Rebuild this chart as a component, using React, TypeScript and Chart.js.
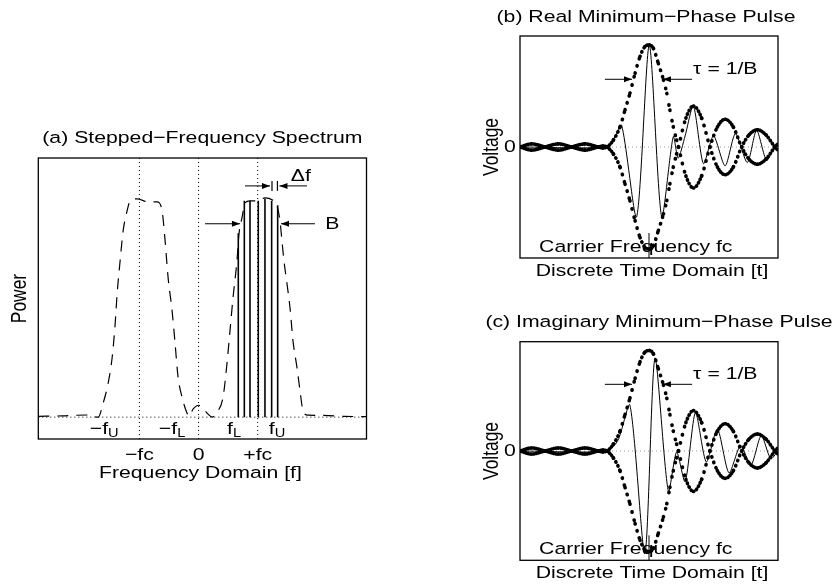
import React, { useEffect, useRef } from "react";
import { Chart, registerables } from "chart.js";
Chart.register(...registerables);

const W = 834;
const H = 587;
const FONT = '"Liberation Sans", Arial, Helvetica, sans-serif';
const SX = 1.22; // horizontal stretch of the lettering in the reference
const FS = 17.4;

// ---------- Panel (a): stepped-frequency spectrum (x in units of fc) ----------
const specFreq = [-2.71, -2.3, -1.9, -1.698, -1.613, -1.529, -1.461, -1.41, -1.377, -1.326, -1.275, -1.208, -1.157, -1.039, -0.853, -0.701, -0.617, -0.566, -0.515, -0.448, -0.397, -0.346, -0.279, -0.194, -0.161, -0.093, 0, 0.076, 0.16, 0.228, 0.313, 0.414, 0.481, 0.532, 0.583, 0.65, 0.684, 0.735, 0.785, 0.87, 1.005, 1.123, 1.242, 1.326, 1.377, 1.41, 1.444, 1.495, 1.546, 1.596, 1.664, 1.715, 1.765, 1.85, 2.1, 2.45, 2.84];
const specPower = [0.004, 0.006, 0.01, 0, 0.065, 0.157, 0.276, 0.433, 0.571, 0.724, 0.862, 0.954, 1.0, 1.009, 0.995, 0.995, 0.954, 0.816, 0.645, 0.493, 0.341, 0.184, 0.092, 0.018, 0.005, 0.037, 0.055, 0.041, 0.014, 0, 0.023, 0.092, 0.249, 0.401, 0.553, 0.724, 0.848, 0.922, 0.991, 1.0, 1.0, 1.014, 1.005, 0.977, 0.908, 0.816, 0.724, 0.618, 0.507, 0.355, 0.23, 0.124, 0.032, 0.009, 0.008, 0.004, 0.002];
const stepFreq = [0.672, 0.774, 0.87, 1.01, 1.123, 1.236, 1.338];
const stepPower = [0.85, 1.0, 1.0, 1.0, 1.01, 1.0, 0.98];
const aTickVals = [-1, 0, 1];
const aTickLabels = ["\u2212fc", "0", "+fc"];
const aBandVals = [-1.596, -0.448, 0.6, 1.326];
const aBandMain = ["\u2212f", "\u2212f", "f", "f"];
const aBandSub = ["U", "L", "L", "U"];
const aBaseline = 0;

// ---------- Panels (b) and (c): minimum-phase pulse (t normalised 0..1) ----------
const envTime = [0, 0.045, 0.097, 0.149, 0.2, 0.252, 0.303, 0.322, 0.337, 0.362, 0.388, 0.407, 0.426, 0.446, 0.465, 0.484, 0.501, 0.517, 0.536, 0.556, 0.569, 0.581, 0.594, 0.607, 0.614, 0.643, 0.672, 0.704, 0.736, 0.765, 0.795, 0.827, 0.859, 0.888, 0.92, 0.953, 0.988, 1.0];
const envVal = [0, 0.028, 0, -0.028, 0, 0.028, 0, -0.008, 0, 0.063, 0.183, 0.333, 0.483, 0.664, 0.814, 0.904, 0.919, 0.889, 0.754, 0.604, 0.483, 0.333, 0.183, 0.063, 0, -0.26, -0.37, -0.26, 0, 0.18, 0.25, 0.18, 0, -0.11, -0.155, -0.11, 0, 0.03];
const reTime = [0, 0.337, 0.365, 0.394, 0.452, 0.501, 0.549, 0.594, 0.613, 0.64, 0.672, 0.711, 0.75, 0.795, 0.835, 0.881, 0.917, 0.956, 0.99, 1.0];
const reVal = [0, 0, 0.08, 0.195, -0.628, 0.919, -0.628, 0.093, -0.1, 0.1, 0.37, -0.15, 0.1, -0.17, 0.12, -0.14, 0.15, -0.12, 0.02, 0];
const imTime = [0, 0.337, 0.38, 0.426, 0.484, 0.523, 0.575, 0.607, 0.64, 0.68, 0.722, 0.765, 0.81, 0.855, 0.895, 0.935, 0.972, 1.0];
const imVal = [0, 0, 0.1, 0.42, -0.94, 0.85, -0.37, -0.01, -0.28, 0.35, -0.1, 0.2, -0.2, 0.05, -0.13, 0.14, -0.07, 0];
const pulseTickVals = [0];
const pulseTickLabels = ["0"];

type Pt = { x: number; y: number | null };
const pts = (xs: number[], ys: number[]): Pt[] => xs.map((x, i) => ({ x, y: ys[i] }));

function drawText(ctx: CanvasRenderingContext2D, s: string, x: number, y: number, opt: { size?: number; align?: CanvasTextAlign; rot?: boolean } = {}) {
  const size = opt.size ?? FS;
  ctx.save();
  ctx.translate(x, y);
  if (opt.rot) {
    ctx.rotate(-Math.PI / 2);
    ctx.scale(1, SX);
  } else ctx.scale(SX, 1);
  ctx.font = `${size}px ${FONT}`;
  ctx.fillStyle = "#000";
  ctx.textAlign = opt.align ?? "center";
  ctx.textBaseline = "middle";
  ctx.fillText(s, 0, 0);
  ctx.restore();
}

function drawSub(ctx: CanvasRenderingContext2D, main: string, sub: string, cx: number, cy: number) {
  ctx.save();
  ctx.font = `${FS}px ${FONT}`;
  const w1 = ctx.measureText(main).width * SX;
  ctx.font = `12px ${FONT}`;
  const w2 = ctx.measureText(sub).width * SX;
  ctx.restore();
  const x0 = cx - (w1 + w2) / 2;
  drawText(ctx, main, x0, cy, { align: "left" });
  drawText(ctx, sub, x0 + w1, cy + 5, { size: 12, align: "left" });
}

function arrow(ctx: CanvasRenderingContext2D, x1: number, y1: number, x2: number, y2: number) {
  ctx.save();
  ctx.strokeStyle = "#000";
  ctx.fillStyle = "#000";
  ctx.lineWidth = 1;
  ctx.setLineDash([]);
  ctx.beginPath();
  ctx.moveTo(x1, y1);
  ctx.lineTo(x2, y2);
  ctx.stroke();
  const a = Math.atan2(y2 - y1, x2 - x1);
  const L = 8, Wd = 3;
  ctx.beginPath();
  ctx.moveTo(x2, y2);
  ctx.lineTo(x2 - L * Math.cos(a) + Wd * Math.sin(a), y2 - L * Math.sin(a) - Wd * Math.cos(a));
  ctx.lineTo(x2 - L * Math.cos(a) - Wd * Math.sin(a), y2 - L * Math.sin(a) + Wd * Math.cos(a));
  ctx.closePath();
  ctx.fill();
  ctx.restore();
}

function seg(ctx: CanvasRenderingContext2D, x1: number, y1: number, x2: number, y2: number, dash: number[], color = "#000", lw = 1) {
  ctx.save();
  ctx.strokeStyle = color;
  ctx.lineWidth = lw;
  ctx.setLineDash(dash);
  ctx.beginPath();
  ctx.moveTo(x1, y1);
  ctx.lineTo(x2, y2);
  ctx.stroke();
  ctx.restore();
}

function frame(ctx: CanvasRenderingContext2D, a: any) {
  ctx.save();
  ctx.strokeStyle = "#000";
  ctx.lineWidth = 1.3;
  ctx.setLineDash([]);
  ctx.strokeRect(a.left, a.top, a.right - a.left, a.bottom - a.top);
  ctx.restore();
}

function baseOptions(box: { l: number; t: number; r: number; b: number }, xr: [number, number], yr: [number, number]) {
  return {
    responsive: false,
    animation: false as const,
    devicePixelRatio: 1,
    events: [] as any[],
    layout: { padding: { left: box.l, top: box.t, right: W - box.r, bottom: H - box.b } },
    plugins: { legend: { display: false }, tooltip: { enabled: false }, title: { display: false } },
    elements: { point: { radius: 0 } },
    scales: {
      x: { type: "linear" as const, min: xr[0], max: xr[1], display: false },
      y: { type: "linear" as const, min: yr[0], max: yr[1], display: false },
    },
  };
}

function makeSpectrum(canvas: HTMLCanvasElement) {
  const stepPts: Pt[] = [];
  stepFreq.forEach((f, i) => {
    stepPts.push({ x: f, y: 0 }, { x: f, y: stepPower[i] }, { x: f, y: null });
  });
  const plugin = {
    id: "specDeco",
    beforeDatasetsDraw(chart: any) {
      const { ctx, chartArea: a, scales } = chart;
      const x = scales.x, y = scales.y;
      aTickVals.forEach((v) => seg(ctx, x.getPixelForValue(v), a.top, x.getPixelForValue(v), a.bottom, [1, 3]));
      seg(ctx, a.left, y.getPixelForValue(aBaseline), a.right, y.getPixelForValue(aBaseline), [1, 3]);
    },
    afterDraw(chart: any) {
      const { ctx, chartArea: a, scales } = chart;
      const x = scales.x, y = scales.y;
      frame(ctx, a);
      drawText(ctx, "(a) Stepped\u2212Frequency Spectrum", (a.left + a.right) / 2, a.top - 20);
      drawText(ctx, "Power", a.left - 18, (a.top + a.bottom) / 2, { rot: true });
      aTickVals.forEach((v, i) => drawText(ctx, aTickLabels[i], x.getPixelForValue(v), a.bottom + 16));
      drawText(ctx, "Frequency Domain [f]", (a.left + a.right) / 2 - 2, a.bottom + 34);
      aBandVals.forEach((v, i) => drawSub(ctx, aBandMain[i], aBandSub[i], x.getPixelForValue(v), a.bottom - 10));
      const yB = y.getPixelForValue(0.894);
      arrow(ctx, x.getPixelForValue(0.11), yB, x.getPixelForValue(0.7), yB);
      arrow(ctx, x.getPixelForValue(1.968), yB, x.getPixelForValue(1.394), yB);
      drawText(ctx, "B", x.getPixelForValue(2.26), yB);
      const yD = y.getPixelForValue(1.069);
      arrow(ctx, x.getPixelForValue(0.785), yD, x.getPixelForValue(1.208), yD);
      arrow(ctx, x.getPixelForValue(1.833), yD, x.getPixelForValue(1.368), yD);
      [1.242, 1.334].forEach((v) => seg(ctx, x.getPixelForValue(v), yD - 5, x.getPixelForValue(v), yD + 5, [], "#000", 1.2));
      drawText(ctx, "\u0394f", x.getPixelForValue(1.73), y.getPixelForValue(1.115));
    },
  };
  return new Chart(canvas, {
    type: "line",
    data: {
      datasets: [
        {
          data: pts(specFreq, specPower) as any,
          borderColor: "#000",
          borderWidth: 1.2,
          borderDash: [11, 8],
          cubicInterpolationMode: "monotone",
          fill: false,
        },
        {
          data: stepPts as any,
          borderColor: "#000",
          borderWidth: 1.6,
          spanGaps: false,
          tension: 0,
          fill: false,
        },
      ],
    },
    options: baseOptions({ l: 38.3, t: 158, r: 366.5, b: 439 }, [-2.71, 2.84], [-0.101, 1.198]) as any,
    plugins: [plugin],
  });
}

// the envelope is drawn as samples taken at a constant step along t: on steep
// parts the dots spread apart, on flat parts they merge into a thick line
const SAMPLE_DX = 2.1;
function sampledDash(sc: any) {
  const dx = Math.abs(sc.p1.x - sc.p0.x);
  const dy = Math.abs(sc.p1.y - sc.p0.y);
  const ds = dx < 0.01 ? SAMPLE_DX : SAMPLE_DX * Math.sqrt(1 + (dy / dx) * (dy / dx));
  return [0.4, Math.max(0.6, ds - 0.4)];
}

function makePulse(canvas: HTMLCanvasElement, box: { l: number; t: number; r: number; b: number }, cTime: number[], cVal: number[], title: string, titleX: number) {
  const plugin = {
    id: "pulseDeco",
    beforeDatasetsDraw(chart: any) {
      const { ctx, chartArea: a, scales } = chart;
      const y0 = scales.y.getPixelForValue(0);
      seg(ctx, a.left, y0, a.right, y0, [1, 3], "#999");
    },
    afterDraw(chart: any) {
      const { ctx, chartArea: a, scales } = chart;
      const x = scales.x, y = scales.y;
      frame(ctx, a);
      drawText(ctx, title, titleX, a.top - 19);
      drawText(ctx, "Voltage", a.left - 28, (a.top + a.bottom) / 2, { rot: true });
      pulseTickVals.forEach((v, i) => drawText(ctx, pulseTickLabels[i], a.left - 10, y.getPixelForValue(v)));
      const ya = y.getPixelForValue(0.61);
      arrow(ctx, x.getPixelForValue(0.329), ya, x.getPixelForValue(0.434), ya);
      arrow(ctx, x.getPixelForValue(0.667), ya, x.getPixelForValue(0.554), ya);
      drawText(ctx, "\u03c4 = 1/B", x.getPixelForValue(0.671), y.getPixelForValue(0.7), { align: "left" });
      seg(ctx, x.getPixelForValue(0.5), a.bottom, x.getPixelForValue(0.5), a.bottom - 25, [], "#000", 1);
      drawText(ctx, "Carrier Frequency fc", x.getPixelForValue(0.074), y.getPixelForValue(-0.9), { align: "left" });
      drawText(ctx, "Discrete Time Domain [t]", (a.left + a.right) / 2 + 3, a.bottom + 13);
    },
  };
  const dotted = {
    borderColor: "#000",
    borderWidth: 3.6,
    borderCapStyle: "round" as const,
    cubicInterpolationMode: "monotone" as const,
    segment: { borderDash: sampledDash },
    fill: false,
  };
  return new Chart(canvas, {
    type: "line",
    data: {
      datasets: [
        { ...dotted, data: pts(envTime, envVal) as any },
        { ...dotted, data: pts(envTime, envVal.map((v) => -v)) as any },
        { data: pts(cTime, cVal) as any, borderColor: "#000", borderWidth: 1, tension: 0.25, fill: false },
      ],
    },
    options: baseOptions(box, [0, 1], [-1, 1]) as any,
    plugins: [plugin],
  });
}

export default function App() {
  const a = useRef<HTMLCanvasElement>(null);
  const b = useRef<HTMLCanvasElement>(null);
  const c = useRef<HTMLCanvasElement>(null);
  useEffect(() => {
    const charts = [
      makeSpectrum(a.current!),
      makePulse(b.current!, { l: 520, t: 36, r: 778, b: 258 }, reTime, reVal, "(b) Real Minimum\u2212Phase Pulse", 646),
      makePulse(c.current!, { l: 520, t: 341.7, r: 778, b: 560.3 }, imTime, imVal, "(c) Imaginary Minimum\u2212Phase Pulse", 659),
    ];
    return () => charts.forEach((ch) => ch.destroy());
  }, []);
  const st: React.CSSProperties = { position: "absolute", left: 0, top: 0, width: W, height: H };
  return (
    <div style={{ position: "absolute", left: 0, top: 0, width: W, height: H, background: "#fff" }}>
      <canvas ref={a} width={W} height={H} style={st} />
      <canvas ref={b} width={W} height={H} style={st} />
      <canvas ref={c} width={W} height={H} style={st} />
    </div>
  );
}
